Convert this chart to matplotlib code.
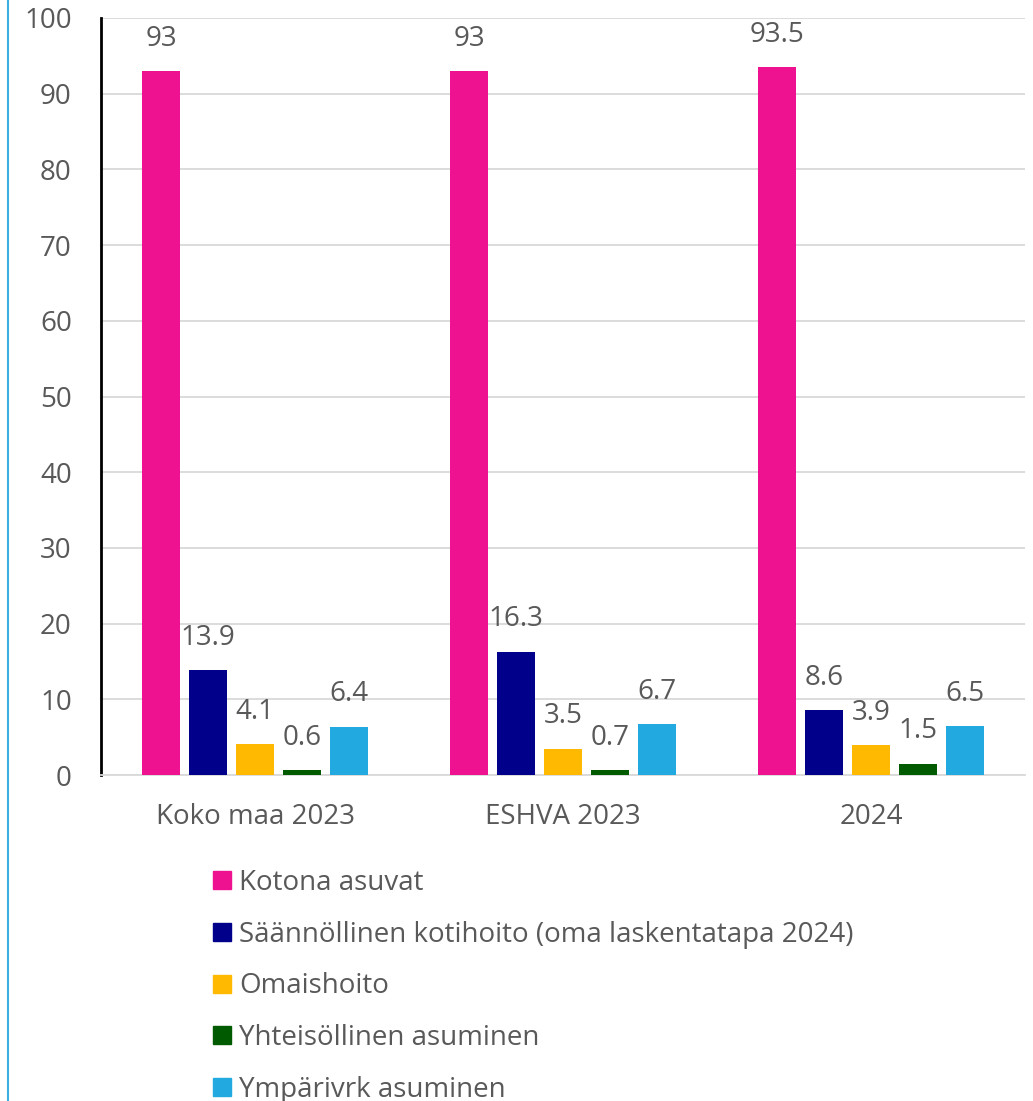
import matplotlib
matplotlib.use("Agg")
import matplotlib.pyplot as plt
import numpy as np
from matplotlib.lines import Line2D

categories = ["Koko maa 2023", "ESHVA 2023", "2024"]
series_names = ["Kotona asuvat",
                "Säännöllinen kotihoito (oma laskentatapa 2024)",
                "Omaishoito",
                "Yhteisöllinen asuminen",
                "Ympärivrk asuminen"]
kotona = [93, 93, 93.5]
kotihoito = [13.9, 16.3, 8.6]
omaishoito = [4.1, 3.5, 3.9]
yhteisollinen = [0.6, 0.7, 1.5]
ymparivrk = [6.4, 6.7, 6.5]
labels_fmt = [["93", "93", "93.5"], ["13.9", "16.3", "8.6"], ["4.1", "3.5", "3.9"],
              ["0.6", "0.7", "1.5"], ["6.4", "6.7", "6.5"]]
colors = ["#EE1190", "#00008B", "#FFB900", "#005A00", "#22AAE0"]

plt.rcParams['font.family'] = ['Open Sans', 'DejaVu Sans']
TXT = "#595959"
FS = 20

fig = plt.figure(figsize=(10.33, 11.01), dpi=100)
ax = fig.add_axes([101/1033, 1-775/1101, 924/1033, (775-18)/1101])

data = [kotona, kotihoito, omaishoito, yhteisollinen, ymparivrk]
x = np.arange(len(categories))
pitch = 47/308
width = 38/308
handles = []
for i, (vals, col) in enumerate(zip(data, colors)):
    pos = x + (i - 2) * pitch
    ax.bar(pos, vals, width=width, color=col, zorder=3)
    for p, v, s in zip(pos, vals, labels_fmt[i]):
        ax.text(p, v + 2.4, s, ha='center', va='bottom', fontsize=FS, color=TXT)
    handles.append(Line2D([], [], marker='s', linestyle='none', markersize=12.5,
                          markerfacecolor=col, markeredgecolor=col))

ax.set_xlim(-0.5, 2.5)
ax.set_ylim(0, 100)
ax.set_yticks(range(0, 101, 10))
ax.set_xticks(x)
ax.set_xticklabels(categories)
ax.tick_params(axis='both', length=0, labelsize=FS, colors=TXT)
ax.tick_params(axis='y', pad=21)
ax.tick_params(axis='x', pad=20)
ax.grid(axis='y', color='#D9D9D9', linewidth=1.3, zorder=0)
for s in ['top', 'right']:
    ax.spines[s].set_visible(False)
ax.spines['left'].set_color('black')
ax.spines['left'].set_linewidth(2)
ax.spines['bottom'].set_color('#D9D9D9')
ax.spines['bottom'].set_linewidth(1.3)

leg = fig.legend(handles, series_names, loc='upper left',
                 bbox_to_anchor=(203/1033, 1-858/1101), frameon=False,
                 fontsize=FS, labelcolor=TXT, handlelength=0.6,
                 handletextpad=0.3, labelspacing=0.85, borderaxespad=0)

fig.add_artist(Line2D([8/1033, 8/1033], [0, 1], color='#3BAFE0', linewidth=1.5))

fig.savefig("out.png", dpi=100)
